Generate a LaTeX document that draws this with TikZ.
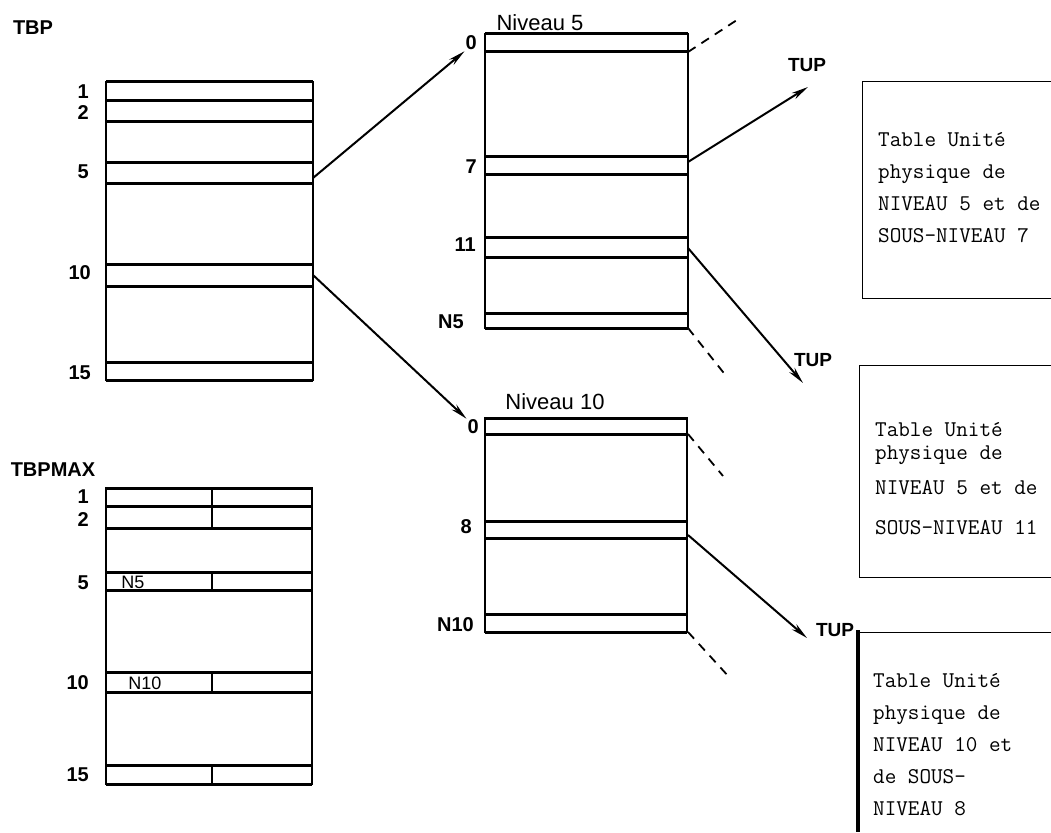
\documentclass[tikz,border=0pt]{standalone}
\usepackage{fontspec}
\setmainfont{Liberation Sans}
\usetikzlibrary{arrows.meta}
\tikzstyle{hline}=[line width=3pt]
\tikzstyle{vline}=[line width=2pt]
\tikzstyle{numsty}=[font=\fontsize{20}{20}\selectfont\bfseries, anchor=east, inner sep=1pt]
\tikzstyle{titlesty}=[font=\fontsize{20}{20}\selectfont\bfseries]
\tikzstyle{nivsty}=[font=\fontsize{22}{22}\selectfont]
\tikzstyle{cellsty}=[font=\fontsize{18}{18}\selectfont, inner sep=1pt]
\tikzstyle{dedge}=[line width=2pt,-{Stealth[length=17pt,width=7pt]}]
\tikzstyle{tail}=[line width=1.8pt,dash pattern=on 9pt off 7pt]
\tikzstyle{boxline}=[line width=1pt]
\tikzstyle{notesty}=[font=\fontsize{22.5}{31.7}\selectfont\ttfamily, align=left, anchor=base west, inner sep=0pt]

\begin{document}
\begin{tikzpicture}[x=1pt,y=-1pt]
\useasboundingbox (0,0) rectangle (1051,832);

% table TBP
\node[titlesty] (tbp) at (33,28) {TBP};
\draw[vline] (106,82) rectangle (313,380);
\foreach \y in {82,101,122,162,183,264,286,362,380}
	\draw[hline] (106,\y) -- (313,\y);
\node[numsty] (b1) at (90,92) {1};
\node[numsty] (b2) at (90,113) {2};
\node[numsty] (b5) at (90,172) {5};
\node[numsty] (b10) at (92,273) {10};
\node[numsty] (b15) at (92,373) {15};
\coordinate (tbp5) at (313,178);
\coordinate (tbp10) at (313,275);

% table TBPMAX
\node[titlesty] (tbpmax) at (53,470) {TBPMAX};
\draw[vline] (106,488) rectangle (312,784);
\foreach \y in {488,506,528,572,590,672,692,765,784}
	\draw[hline] (106,\y) -- (312,\y);
\foreach \a/\b in {488/528,572/590,672/692,765/784}
	\draw[vline] (212,\a) -- (212,\b);
\node[numsty] (m1) at (90,497) {1};
\node[numsty] (m2) at (90,520) {2};
\node[numsty] (m5) at (90,583) {5};
\node[numsty] (m10) at (90,683) {10};
\node[numsty] (m15) at (90,775) {15};
\node[cellsty] (cn5) at (133,582) {N5};
\node[cellsty] (cn10) at (145,683) {N10};

% Niveau 5
\node[nivsty] (niv5) at (540,23) {Niveau 5};
\draw[vline] (485,34) rectangle (688,328);
\foreach \y in {34,52,156,174,237,257,313,328}
	\draw[hline] (485,\y) -- (688,\y);
\node[numsty] (z5) at (478,43) {0};
\node[numsty] (s7) at (478,167) {7};
\node[numsty] (s11) at (477,245) {11};
\node[numsty] (sn5) at (465,322) {N5};
\coordinate (n5top) at (688,52);
\coordinate (n5r7) at (688,162);
\coordinate (n5r11) at (688,248);
\coordinate (n5bot) at (688,328);

% Niveau 10
\node[nivsty] (niv10) at (555,402) {Niveau 10};
\draw[vline] (485,418) rectangle (687,632);
\foreach \y in {418,434,521,538,614,632}
	\draw[hline] (485,\y) -- (687,\y);
\node[numsty] (z10) at (480,427) {0};
\node[numsty] (s8) at (473,527) {8};
\node[numsty] (sn10) at (475,625) {N10};
\coordinate (n10top) at (688,434);
\coordinate (n10r8) at (688,535);
\coordinate (n10bot) at (688,632);

% pointeurs
\draw[dedge] (tbp5) -- (z5.south west);
\draw[dedge] (tbp10) -- (z10.north west);

\node[titlesty,font=\fontsize{19}{19}\selectfont\bfseries] (tup1) at (807,65) {TUP};
\node[titlesty,font=\fontsize{19}{19}\selectfont\bfseries] (tup2) at (813,360) {TUP};
\node[titlesty,font=\fontsize{19}{19}\selectfont\bfseries] (tup3) at (835,630) {TUP};
\coordinate (tip1) at (808,87);
\coordinate (tip2) at (803,383);
\coordinate (tip3) at (807,638);
\draw[dedge] (n5r7) -- (tip1);
\draw[dedge] (n5r11) -- (tip2);
\draw[dedge] (n10r8) -- (tip3);

\coordinate (d1) at (740,18);
\coordinate (d2) at (727,377);
\coordinate (d3) at (723,476);
\coordinate (d4) at (730,678);
\draw[tail] (n5top) -- (d1);
\draw[tail] (n5bot) -- (d2);
\draw[tail] (n10top) -- (d3);
\draw[tail] (n10bot) -- (d4);

% notes (base = last line)
\draw[boxline] (1051,82) -| (862,298) -- (1051,298);
\node[notesty] (note1) at (878,242) {Table Unité\\physique de\\NIVEAU 5 et de\\SOUS-NIVEAU 7};
\draw[boxline] (1051,365) -| (859,577) -- (1051,577);
\node[notesty,font=\fontsize{22.5}{23}\selectfont\ttfamily] (note2) at (875,534) {Table Unité\\physique de\\[12pt]NIVEAU 5 et de\\[17pt]SOUS-NIVEAU 11};
\draw[boxline] (1051,632) -- (858,632);
\draw[line width=4pt] (858,630) -- (858,832);
\node[notesty,font=\fontsize{22.5}{32}\selectfont\ttfamily] (note3) at (873,815) {Table Unité\\physique de\\NIVEAU 10 et\\de SOUS-\\NIVEAU 8};
\end{tikzpicture}
\end{document}
